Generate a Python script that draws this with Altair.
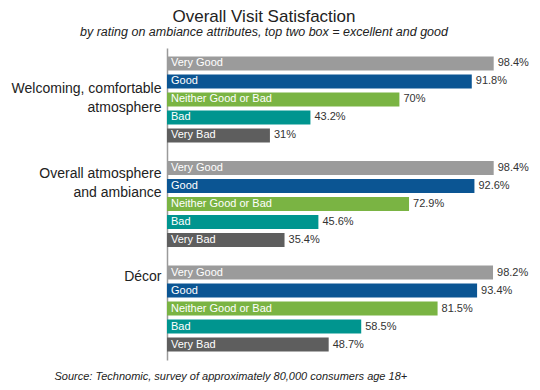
import altair as alt
import pandas as pd

groups = ["Welcoming, comfortable|atmosphere", "Overall atmosphere|and ambiance", "Décor"]
ratings = ["Very Good", "Good", "Neither Good or Bad", "Bad", "Very Bad"]
welcoming = [98.4, 91.8, 70, 43.2, 31]
overall = [98.4, 92.6, 72.9, 45.6, 35.4]
decor = [98.2, 93.4, 81.5, 58.5, 48.7]
colors = ["#9b9b9b", "#0b5593", "#7ab443", "#00958f", "#5e5e5e"]

rows = []
for g, vals in zip(groups, [welcoming, overall, decor]):
    for r, v in zip(ratings, vals):
        rows.append({"group": g, "rating": r, "value": v})
df = pd.DataFrame(rows)

FONT = "Liberation Sans"

y_enc = alt.Y(
    "group:N",
    sort=groups,
    scale=alt.Scale(paddingInner=0.139, paddingOuter=0.062),
    axis=alt.Axis(
        title=None,
        ticks=False,
        domainColor="#9a9a9a",
        domainWidth=1.5,
        labelPadding=6,
        labelFontSize=14,
        labelFont=FONT,
        labelColor="#222222",
        labelAlign="right",
        labelLineHeight=19,
        labelExpr="split(datum.label, '|')",
        labelOffset={
            "condition": [
                {"test": "indexof(datum.value, 'Welcoming') >= 0", "value": -10},
                {"test": "indexof(datum.value, 'Overall') >= 0", "value": -30},
            ],
            "value": -32,
        },
    ),
)
yoff = alt.YOffset("rating:N", sort=ratings,
                   scale=alt.Scale(paddingInner=0.22, paddingOuter=0.11))

x_enc = alt.X(
    "value:Q",
    scale=alt.Scale(domain=[0, 100], nice=False),
    axis=alt.Axis(
        labels=False, ticks=False, domain=False, grid=False,
        title="Source: Technomic, survey of approximately 80,000 consumers age 18+",
        titleX=-113, titleY=19, titleAlign="left", titleBaseline="alphabetic",
        titleFontStyle="italic", titleFontWeight="normal", titleFontSize=11,
        titleFont=FONT, titleColor="#222222",
    ),
)

base = alt.Chart(df)

bars = base.mark_bar().encode(
    x=x_enc,
    y=y_enc,
    yOffset=yoff,
    color=alt.Color("rating:N", sort=ratings,
                    scale=alt.Scale(domain=ratings, range=colors), legend=None),
)

inner = base.mark_text(align="left", baseline="middle", dx=4, color="white",
                       fontSize=11, font=FONT).encode(
    x=alt.datum(0),
    y=alt.Y("group:N", sort=groups),
    yOffset=yoff,
    text="rating:N",
)

vals = base.transform_calculate(lab="datum.value + '%'").mark_text(
    align="left", baseline="middle", dx=4, color="#333333", fontSize=11, font=FONT
).encode(
    x="value:Q",
    y=alt.Y("group:N", sort=groups),
    yOffset=yoff,
    text="lab:N",
)

chart = alt.layer(bars, inner, vals).properties(
    width=332,
    height=312,
    title=alt.TitleParams(
        text="Overall Visit Satisfaction",
        subtitle="by rating on ambiance attributes, top two box = excellent and good",
        anchor="middle",
        dx=-69,
        font=FONT,
        fontSize=17,
        fontWeight="normal",
        color="#222222",
        subtitleFont=FONT,
        subtitleFontSize=12.5,
        subtitleFontStyle="italic",
        subtitleColor="#222222",
        subtitlePadding=0,
        offset=9,
    ),
    autosize=alt.AutoSizeParams(type="none"),
    padding={"left": 159, "top": 40, "right": 33, "bottom": 22},
).configure_view(stroke=None)

chart.save("out.html", embed_options={"renderer": "svg", "actions": False})
